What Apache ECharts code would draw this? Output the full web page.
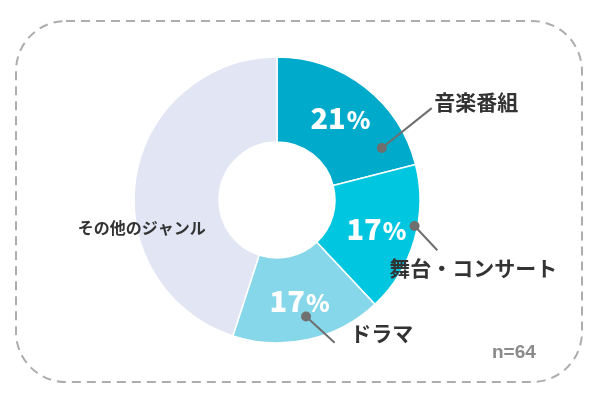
<!DOCTYPE html>
<html>
<head>
<meta charset="utf-8">
<script src="https://cdn.jsdelivr.net/npm/echarts@6/dist/echarts.min.js"></script>
<style>
html,body{margin:0;padding:0;background:#fff;}
#main{width:602px;height:396px;}
</style>
</head>
<body>
<div id="main"></div>
<script>
// ---- data ----
var categories = ['音楽番組', '舞台・コンサート', 'ドラマ', 'その他のジャンル'];
var values = [21, 17, 17, 45];
var sampleLabel = 'n=64';
// ---- style ----
var colors = ['#00aacb', '#00c6df', '#87d7ea', '#e1e5f4'];
var FONT = '"Noto Sans CJK JP", "Noto Sans", sans-serif';
var CX = 277, CY = 200, R_OUT = 143, R_IN = 58;

// leader-line anchors (polar: [radius px, angle deg clockwise from top])
var leaderStart = [[117, 63.6], [140, 100.7], [120, 166]];
var leaderEnd = [[180, 59.3], [168, 107.4], [154, 158]];
var leaderLabelPos = [
  {position: 'right', distance: 2, offset: [0, -6]},
  {position: 'bottom', distance: 7, offset: [36, 0]},
  {position: 'right', distance: 15, offset: [0, -10]}
];

var chart = echarts.init(document.getElementById('main'), null, {renderer: 'canvas'});

var pieData = categories.map(function (c, i) {
  var d = {name: c, value: values[i], itemStyle: {color: colors[i]}};
  if (i === 3) {
    d.label = {
      formatter: '{o|' + c + '}',
      offset: [-33, 44]
    };
  }
  return d;
});

var series = [{
  type: 'pie',
  center: [CX, CY],
  radius: [R_IN, R_OUT],
  startAngle: 90,
  clockwise: true,
  silent: true,
  animation: false,
  itemStyle: {borderColor: '#fff', borderWidth: 1.5},
  label: {
    show: true,
    position: 'inside',
    formatter: function (p) { return '{n|' + p.value + '}{p|%}'; },
    rich: {
      n: {fontFamily: FONT, fontSize: 29, fontWeight: 900, color: '#fff'},
      p: {fontFamily: FONT, fontSize: 24, fontWeight: 900, color: '#fff', padding: [4, 0, 0, 1]},
      o: {fontFamily: FONT, fontSize: 16, fontWeight: 'bold', color: '#333'}
    }
  },
  labelLine: {show: false},
  data: pieData
}];

// leader lines with dots, drawn in a polar system sharing the pie centre
for (var k = 0; k < 3; k++) {
  var lp = leaderLabelPos[k];
  series.push({
    type: 'line',
    coordinateSystem: 'polar',
    silent: true,
    animation: false,
    clip: false,
    showSymbol: true,
    lineStyle: {color: '#6f6f6f', width: 2},
    data: [
      {value: leaderStart[k], symbol: 'circle', symbolSize: 10, itemStyle: {color: '#6f6f6f'}},
      {value: leaderEnd[k], symbol: 'circle', symbolSize: 1, itemStyle: {color: 'rgba(0,0,0,0)', borderWidth: 0},
        label: {
          show: true,
          position: lp.position,
          distance: lp.distance,
          offset: lp.offset,
          formatter: categories[k],
          fontFamily: FONT,
          fontSize: 21,
          fontWeight: 'bold',
          color: '#333'
        }}
    ]
  });
}

chart.setOption({
  backgroundColor: '#fff',
  animation: false,
  title: {
    text: sampleLabel,
    left: 487,
    top: 338,
    textStyle: {fontFamily: 'Liberation Sans, Arial, sans-serif', fontSize: 19, fontWeight: 'bold', color: '#8a8a8a'}
  },
  polar: {center: [CX, CY], radius: [0, 200]},
  angleAxis: {type: 'value', min: 0, max: 360, startAngle: 90, clockwise: true, show: false},
  radiusAxis: {type: 'value', min: 0, max: 200, show: false},
  graphic: [{
    type: 'rect',
    silent: true,
    z: -1,
    shape: {x: 16, y: 21, width: 566, height: 361, r: 50},
    style: {fill: 'none', stroke: '#adadad', lineWidth: 2, lineDash: [9, 6]}
  }],
  series: series
});
</script>
</body>
</html>
